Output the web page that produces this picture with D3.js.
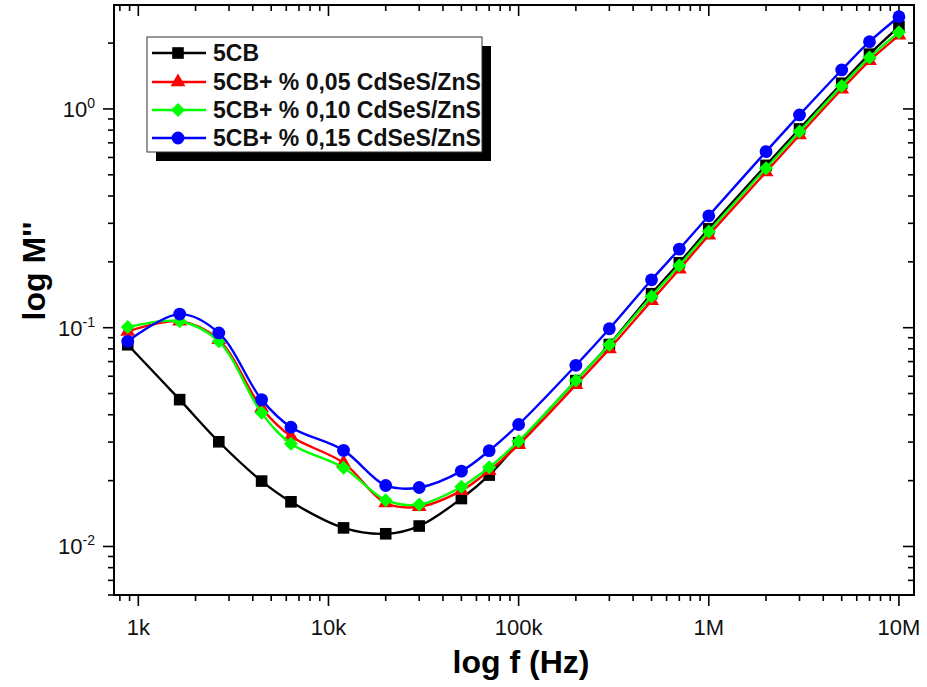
<!DOCTYPE html>
<html>
<head>
<meta charset="utf-8">
<script src="https://cdn.jsdelivr.net/npm/d3@7"></script>
<style>
  html, body { margin: 0; padding: 0; background: #fff; }
  svg { display: block; font-family: "Liberation Sans", Arial, sans-serif; }
</style>
</head>
<body>
<svg id="chart" width="927" height="687"></svg>
<script>
// frequencies (Hz), shared by all series
const freqs = [880, 1650, 2650, 4450, 6350, 12000, 20000, 30000, 50000, 70000,
  1e5, 2e5, 3e5, 5e5, 7e5, 1e6, 2e6, 3e6, 5e6, 7e6, 1e7];

const m5CB   = [0.0836, 0.0469, 0.0301, 0.0199, 0.0160, 0.01216, 0.01143, 0.0124, 0.01656, 0.0212,
  0.0298, 0.0573, 0.0838, 0.143, 0.198, 0.283, 0.552, 0.81, 1.31, 1.78, 2.38];
const m005   = [0.0962, 0.107, 0.088, 0.043, 0.0319, 0.0241, 0.0158, 0.0152, 0.0180, 0.0222,
  0.0292, 0.0548, 0.080, 0.133, 0.185, 0.265, 0.515, 0.76, 1.23, 1.66, 2.17];
const m010   = [0.1007, 0.107, 0.0866, 0.0408, 0.0295, 0.0229, 0.01627, 0.01555, 0.01874, 0.0230,
  0.0303, 0.0573, 0.0836, 0.139, 0.1925, 0.275, 0.536, 0.788, 1.274, 1.72, 2.24];
const m015   = [0.0866, 0.1154, 0.0946, 0.0469, 0.0351, 0.0275, 0.0190, 0.0186, 0.0221, 0.0274,
  0.0361, 0.0673, 0.0989, 0.1656, 0.2287, 0.3247, 0.638, 0.939, 1.507, 2.03, 2.64];

const seriesNames = ["5CB", "5CB+ % 0,05 CdSeS/ZnS", "5CB+ % 0,10 CdSeS/ZnS", "5CB+ % 0,15 CdSeS/ZnS"];
const seriesColors = ["#000000", "#ff0000", "#00ff00", "#0000ff"];
const seriesShapes = ["square", "triangle", "diamond", "circle"];
const seriesValues = [m5CB, m005, m010, m015];

const xTickValues = [1e3, 1e4, 1e5, 1e6, 1e7];
const xTickLabels = ["1k", "10k", "100k", "1M", "10M"];
const yTickExps = [-2, -1, 0];

const plot = { left: 114, right: 914, top: 5, bottom: 595 };

const svg = d3.select("#chart");

const x = d3.scaleLog().domain([745, 1.2e7]).range([plot.left, plot.right]);
const y = d3.scaleLog().domain([0.006, 2.986]).range([plot.bottom, plot.top]);

// ticks (major on decades, minor on 2..9)
const isMajor = v => Math.abs(Math.log10(v) - Math.round(Math.log10(v))) < 1e-9;
const MAJ = 11, MIN = 6;

const axes = svg.append("g").attr("stroke", "#000").attr("stroke-width", 1.6);
x.ticks().forEach(v => {
  const px = x(v), len = isMajor(v) ? MAJ : MIN;
  axes.append("line").attr("x1", px).attr("x2", px).attr("y1", plot.bottom).attr("y2", plot.bottom + len);
  axes.append("line").attr("x1", px).attr("x2", px).attr("y1", plot.top).attr("y2", plot.top + len);
});
y.ticks().forEach(v => {
  const py = y(v), len = isMajor(v) ? MAJ : MIN;
  axes.append("line").attr("x1", plot.left - len).attr("x2", plot.left).attr("y1", py).attr("y2", py);
  axes.append("line").attr("x1", plot.right - len).attr("x2", plot.right).attr("y1", py).attr("y2", py);
});

// frame
svg.append("rect")
  .attr("x", plot.left).attr("y", plot.top)
  .attr("width", plot.right - plot.left).attr("height", plot.bottom - plot.top)
  .attr("fill", "none").attr("stroke", "#000").attr("stroke-width", 2);

// tick labels
svg.append("g").selectAll("text")
  .data(xTickValues)
  .join("text")
  .attr("x", d => x(d)).attr("y", 635)
  .attr("text-anchor", "middle").attr("font-size", 22).attr("fill", "#111")
  .text((d, i) => xTickLabels[i]);

const yl = svg.append("g").selectAll("text")
  .data(yTickExps)
  .join("text")
  .attr("x", 95).attr("y", d => y(Math.pow(10, d)) + 8)
  .attr("text-anchor", "end").attr("font-size", 22).attr("fill", "#111");
yl.append("tspan").text("10");
yl.append("tspan").attr("font-size", 14).attr("dy", -9).text(d => String(d));

// axis titles
svg.append("text")
  .attr("x", 521).attr("y", 673)
  .attr("text-anchor", "middle").attr("font-size", 32).attr("font-weight", "bold")
  .text("log f (Hz)");
svg.append("text")
  .attr("transform", "translate(45,271) rotate(-90)")
  .attr("text-anchor", "middle").attr("font-size", 32).attr("font-weight", "bold")
  .text("log M''");

// symbols
function drawMarker(g, shape, color) {
  if (shape === "square") {
    g.append("rect").attr("x", -5.8).attr("y", -5.8).attr("width", 11.6).attr("height", 11.6).attr("fill", color);
  } else if (shape === "triangle") {
    g.append("path").attr("d", d3.symbol(d3.symbolTriangle, 95)()).attr("fill", color);
  } else if (shape === "diamond") {
    g.append("path").attr("d", "M0,-7 L7,0 L0,7 L-7,0Z").attr("fill", color);
  } else {
    g.append("circle").attr("r", 6.4).attr("fill", color);
  }
}

const line = d3.line()
  .x(d => x(d[0]))
  .y(d => y(d[1]))
  .curve(d3.curveCatmullRom.alpha(0.5));

const dataG = svg.append("g");
seriesValues.forEach((vals, i) => {
  const pts = freqs.map((f, j) => [f, vals[j]]);
  const g = dataG.append("g");
  g.append("path").attr("d", line(pts))
    .attr("fill", "none").attr("stroke", seriesColors[i]).attr("stroke-width", 2.4);
  pts.forEach(p => {
    const m = g.append("g").attr("transform", `translate(${x(p[0])},${y(p[1])})`);
    drawMarker(m, seriesShapes[i], seriesColors[i]);
  });
});

// legend
const lg = { x: 147, y: 37, w: 335, h: 115, shadow: 9 };
svg.append("rect")
  .attr("x", lg.x + lg.shadow).attr("y", lg.y + lg.shadow).attr("width", lg.w).attr("height", lg.h)
  .attr("fill", "#000");
svg.append("rect")
  .attr("x", lg.x).attr("y", lg.y).attr("width", lg.w).attr("height", lg.h)
  .attr("fill", "#fff").attr("stroke", "#333").attr("stroke-width", 1);

const rowY = [53, 82, 110, 138];
seriesNames.forEach((name, i) => {
  const r = svg.append("g").attr("transform", `translate(0,${rowY[i]})`);
  r.append("line").attr("x1", 152).attr("x2", 206).attr("y1", 0).attr("y2", 0)
    .attr("stroke", seriesColors[i]).attr("stroke-width", 2.4);
  const m = r.append("g").attr("transform", "translate(178,0)");
  drawMarker(m, seriesShapes[i], seriesColors[i]);
  r.append("text").attr("x", 213).attr("y", 8)
    .attr("font-size", 23).attr("font-weight", "bold").attr("fill", "#111")
    .text(name);
});
</script>
</body>
</html>
